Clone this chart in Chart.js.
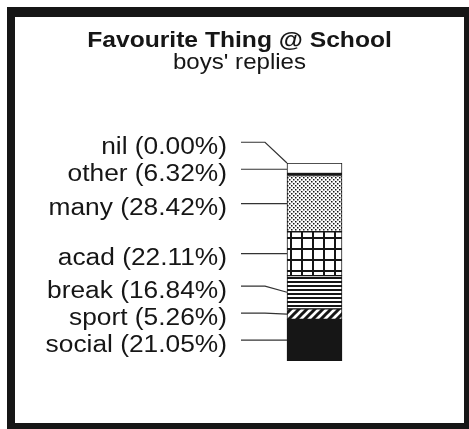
<!DOCTYPE html>
<html>
<head>
<meta charset="utf-8">
<script src="https://cdn.jsdelivr.net/npm/chart.js@4/dist/chart.umd.min.js"></script>
<style>
  html, body { margin: 0; padding: 0; background: #fff; overflow: hidden; }
  #frame {
    position: absolute; left: 7px; top: 7px;
    width: 449px; height: 406px;
    border-style: solid; border-color: #161616;
    border-width: 10px 9px 9px 8px;
  }
  #chart-wrap { position: relative; width: 449px; height: 406px; }
</style>
</head>
<body>
<div id="frame"><div id="chart-wrap"><canvas id="chart"></canvas></div></div>
<script>
const CATEGORIES = ['social', 'sport', 'break', 'acad', 'many', 'other', 'nil'];
const SHARES = [21.05, 5.26, 16.84, 22.11, 28.42, 6.32, 0.00];
const TITLE = 'Favourite Thing @ School';
const SUBTITLE = "boys' replies";

const INK = '#161616';
const FONT = "'Liberation Sans', Arial, sans-serif";
const STRETCH = 1.12; // text is drawn a little wide

function tile(w, h, paint) {
  const c = document.createElement('canvas');
  c.width = w;
  c.height = h;
  const g = c.getContext('2d');
  g.fillStyle = '#fff';
  g.fillRect(0, 0, w, h);
  g.fillStyle = INK;
  g.strokeStyle = INK;
  paint(g);
  return g.createPattern(c, 'repeat');
}

// one fill per segment, bottom to top
const FILLS = [
  INK,
  tile(8, 8, g => {
    g.lineWidth = 3;
    g.beginPath();
    g.moveTo(-2, 10); g.lineTo(10, -2);
    g.moveTo(-6, 6); g.lineTo(6, -6);
    g.moveTo(2, 14); g.lineTo(14, 2);
    g.stroke();
  }),
  tile(4, 4, g => g.fillRect(0, 0, 4, 2)),
  tile(11, 11, g => { g.fillRect(0, 0, 11, 2); g.fillRect(0, 0, 2, 11); }),
  tile(4, 4, g => { g.fillRect(0, 0, 1.5, 1.5); g.fillRect(2, 2, 1.5, 1.5); }),
  '#fff',
  '#fff',
];
const BORDERS = [1, 1, 1, 1, 1, { top: 1, left: 1, right: 1, bottom: 3 }, 1];

function wideText(ctx, text, x, y) {
  ctx.save();
  ctx.translate(x, y);
  ctx.scale(STRETCH, 1);
  ctx.fillText(text, 0, 0);
  ctx.restore();
}

const headings = {
  id: 'headings',
  afterDraw(chart) {
    const ctx = chart.ctx;
    const cx = chart.width / 2;
    ctx.save();
    ctx.fillStyle = INK;
    ctx.textAlign = 'center';
    ctx.textBaseline = 'middle';
    ctx.font = `bold 22px ${FONT}`;
    wideText(ctx, TITLE, cx, 24);
    ctx.font = `21.5px ${FONT}`;
    wideText(ctx, SUBTITLE, cx, 46);
    ctx.restore();
  }
};

const leaderLabels = {
  id: 'leaderLabels',
  afterDatasetsDraw(chart) {
    const ctx = chart.ctx;
    const items = chart.data.datasets.map((ds, i) => {
      const bar = chart.getDatasetMeta(i).data[0];
      return {
        text: `${ds.label} (${ds.data[0].toFixed(2)}%)`,
        cy: (bar.y + bar.base) / 2,
        left: bar.x - bar.width / 2,
      };
    });
    // push labels upward so they don't overlap
    let prev = Infinity;
    items.forEach(it => {
      it.ly = Math.min(it.cy, prev - 27);
      prev = it.ly;
    });
    ctx.save();
    ctx.font = `23.5px ${FONT}`;
    ctx.fillStyle = INK;
    ctx.textAlign = 'right';
    ctx.textBaseline = 'middle';
    ctx.strokeStyle = '#333';
    ctx.lineWidth = 1.2;
    items.forEach(it => {
      const textRight = it.left - 60;
      wideText(ctx, it.text, textRight, it.ly + 5);
      ctx.beginPath();
      ctx.moveTo(textRight + 14, it.ly);
      ctx.lineTo(it.left - 22, it.ly);
      ctx.lineTo(it.left, it.cy);
      ctx.stroke();
    });
    ctx.restore();
  }
};

new Chart(document.getElementById('chart'), {
  type: 'bar',
  data: {
    labels: [''],
    datasets: CATEGORIES.map((name, i) => ({
      label: name,
      data: [SHARES[i]],
      backgroundColor: FILLS[i],
      borderColor: INK,
      borderWidth: BORDERS[i],
      borderSkipped: false,
      barThickness: 55,
    })),
  },
  options: {
    responsive: true,
    maintainAspectRatio: false,
    animation: false,
    layout: { padding: { left: 250, right: 100, top: 146, bottom: 62 } },
    scales: {
      x: { stacked: true, display: false },
      y: { stacked: true, display: false, min: 0, max: 100 },
    },
    plugins: {
      legend: { display: false },
      tooltip: { enabled: false },
    },
  },
  plugins: [leaderLabels, headings],
});
</script>
</body>
</html>
